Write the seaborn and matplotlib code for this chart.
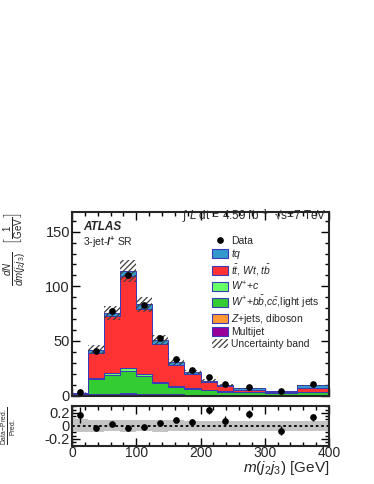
import numpy as np
import pandas as pd
import matplotlib
matplotlib.use("Agg")
import matplotlib.pyplot as plt
import seaborn as sns
from matplotlib.lines import Line2D
from matplotlib.patches import Patch
from matplotlib.ticker import MultipleLocator, FixedLocator, FixedFormatter

# ---------------- data ----------------
bin_edges = [0, 25, 50, 75, 100, 125, 150, 175, 200, 225, 250, 300, 350, 400]
multijet = [1.2, 1.2, 1.2, 1.3, 1.2, 1.0, 0.8, 0.6, 0.5, 0.4, 0.3, 0.2, 0.3]
zjets = [0.1, 0.3, 0.4, 0.9, 0.5, 0.3, 0.2, 0.2, 0.1, 0.1, 0.1, 0.1, 0.1]
wbb = [0.5, 13.3, 17.6, 20.3, 16.2, 9.8, 6.4, 5.1, 4.0, 3.0, 2.5, 2.2, 2.6]
wc = [0.1, 1.6, 1.8, 2.8, 1.5, 1.2, 0.9, 0.9, 0.6, 0.5, 0.4, 0.3, 0.4]
ttbar = [0.4, 22.8, 51.5, 84.3, 60.2, 34.7, 19.7, 13.2, 7.1, 4.3, 2.0, 0.9, 3.4]
tq = [0.1, 2.8, 3.0, 4.4, 3.9, 3.5, 2.5, 1.8, 1.4, 1.5, 1.2, 0.5, 2.4]
data = [2.8, 40.8, 77.8, 110.0, 82.7, 53.0, 33.4, 23.1, 17.0, 10.6, 7.7, 3.9, 10.4]
data_rel_err = [0.11, 0.03, 0.025, 0.02, 0.022, 0.028, 0.035, 0.04, 0.05, 0.06, 0.055, 0.07, 0.05]
syst_rel = [0.10, 0.09, 0.085, 0.09, 0.085, 0.09, 0.085, 0.08, 0.08, 0.08, 0.08, 0.075, 0.075]

process_names = ["tq", "ttbar", "Wc", "Wbb", "Zjets", "Multijet"]
process_values = [tq, ttbar, wc, wbb, zjets, multijet]
process_labels = [r"$tq$", r"$t\bar{t}$, $Wt$, $t\bar{b}$", r"$W^{+}$+$c$",
                  r"$W^{+}$+$b\bar{b}$,$c\bar{c}$,light jets", r"$Z$+jets, diboson",
                  "Multijet"]
palette = {"tq": "#3398cc", "ttbar": "#ff3333", "Wc": "#66ff66",
           "Wbb": "#33cc33", "Zjets": "#ff9933", "Multijet": "#990099"}

# ---------------- style ----------------
sns.set_theme(style="ticks")
plt.rcParams["font.family"] = ["Liberation Sans", "DejaVu Sans"]
plt.rcParams.update({
    "mathtext.fontset": "custom",
    "mathtext.rm": "Liberation Sans",
    "mathtext.it": "Liberation Sans:italic",
    "mathtext.bf": "Liberation Sans:bold",
    "mathtext.bfit": "Liberation Sans:bold:italic",
    "hatch.linewidth": 0.9,
    "axes.linewidth": 1.5,
})

edges = np.array(bin_edges, dtype=float)
centers = 0.5 * (edges[:-1] + edges[1:])
nb = len(centers)

df = pd.DataFrame({
    "mjj": np.tile(centers, len(process_names)),
    "weight": np.concatenate([np.array(v, float) for v in process_values]),
    "process": np.repeat(process_names, nb),
})

total = np.sum([np.array(v, float) for v in process_values], axis=0)
data_a = np.array(data, float)
derr = data_a * np.array(data_rel_err)
srel = np.array(syst_rel)

W, H = 374, 484
fig = plt.figure(figsize=(W / 100, H / 100), dpi=100)
ax = fig.add_axes([72 / W, 1 - 395.5 / H, 257 / W, 183.5 / H])
rax = fig.add_axes([72 / W, 1 - 445.5 / H, 257 / W, 39.2 / H])

sns.histplot(data=df, x="mjj", weights="weight", hue="process",
             hue_order=process_names, palette=palette, bins=bin_edges,
             multiple="stack", element="step", fill=True, alpha=1,
             edgecolor="#3a3ab8", linewidth=0.7, legend=False, ax=ax)

ax.stairs(total * (1 + srel), edges, baseline=total * (1 - srel), fill=True,
          facecolor="none", edgecolor="#404040", hatch="//////", linewidth=0,
          zorder=5)
ax.errorbar(centers, data_a, yerr=derr, fmt="o", color="black", ms=3.8,
            elinewidth=1.0, capsize=0, zorder=6)

ax.set_xlim(0, 400)
ax.set_ylim(0, 168)
ax.set_xlabel("")
ax.set_ylabel("")
ax.yaxis.set_major_locator(FixedLocator([0, 50, 100, 150]))
ax.yaxis.set_minor_locator(MultipleLocator(10))
ax.xaxis.set_major_locator(MultipleLocator(100))
ax.xaxis.set_minor_locator(MultipleLocator(20))
ax.tick_params(axis="both", which="both", direction="in", top=True, right=True,
               labelsize=10.5, width=1.0, color="black", pad=1.5)
ax.tick_params(which="major", length=6)
ax.tick_params(which="minor", length=3)
ax.tick_params(axis="x", labelbottom=False)

# ratio panel
ratio = (data_a - total) / total
rerr = derr / total
rax.stairs(srel, edges, baseline=-srel, fill=True, facecolor="#c4c4c4",
           linewidth=0, zorder=1)
rax.axhline(0, color="black", ls=(0, (1.5, 1.5)), lw=1.3, zorder=2)
rax.errorbar(centers, ratio, yerr=rerr, fmt="o", color="black", ms=3.8,
             elinewidth=1.0, capsize=0, zorder=3)
rax.set_xlim(0, 400)
rax.set_ylim(-0.3, 0.3)
rax.yaxis.set_major_locator(FixedLocator([-0.2, 0, 0.2]))
rax.yaxis.set_major_formatter(FixedFormatter(["-0.2", "0", "0.2"]))
rax.yaxis.set_minor_locator(MultipleLocator(0.05))
rax.xaxis.set_major_locator(MultipleLocator(100))
rax.xaxis.set_minor_locator(MultipleLocator(20))
rax.tick_params(axis="both", which="both", direction="in", top=True, right=True,
                labelsize=10.5, width=1.0, color="black", pad=1.5)
rax.tick_params(axis="x", labelsize=10, pad=0.5)
rax.tick_params(which="major", length=6)
rax.tick_params(which="minor", length=3)
rax.set_xlabel("")
rax.set_ylabel("")

# texts
ax.text(0.042, 0.918, "ATLAS", transform=ax.transAxes, fontsize=8.5,
        fontweight="bold", fontstyle="italic", va="center", ha="left")
ax.text(0.042, 0.837, r"3-jet-$\mathbfit{l}^{\mathbf{+}}$ SR", transform=ax.transAxes,
        fontsize=7.5, va="center", ha="left")
ax.text(0.99, 0.982, r"$\int$ $L$ dt = 4.59 fb$^{-1}$  √s=7 TeV",
        transform=ax.transAxes, fontsize=8.5, va="center", ha="right")

handles = [Line2D([], [], marker="o", color="black", ls="none", ms=3.8)]
labels = ["Data"]
for name, lab in zip(process_names, process_labels):
    handles.append(Patch(facecolor=palette[name], edgecolor="#3a3ab8", linewidth=0.8))
    labels.append(lab)
handles.append(Patch(facecolor="none", edgecolor="#404040", hatch="//////", linewidth=0))
labels.append("Uncertainty band")
ax.legend(handles, labels, loc="upper left", bbox_to_anchor=(0.545, 0.872),
          frameon=False, fontsize=7.5, handlelength=1.5, handleheight=0.95,
          handletextpad=0.3, labelspacing=0.15, borderpad=0, borderaxespad=0)

fig.text(329 / W, 1 - 472 / H, r"$m(j_2j_3)$ [GeV]", ha="right", va="baseline",
         fontsize=11)
fig.text(15 / W, 1 - 212 / H,
         r"$\frac{dN}{dm(j_2j_3)}$  $\left[\frac{1}{\mathrm{GeV}}\right]$",
         rotation=90, ha="center", va="top", fontsize=10)
fig.text(9 / W, 1 - 426 / H, r"$\frac{\mathrm{Data\!-\!Pred.}}{\mathrm{Pred.}}$",
         rotation=90, ha="center", va="center", fontsize=7)

fig.savefig("out.png", dpi=100)
